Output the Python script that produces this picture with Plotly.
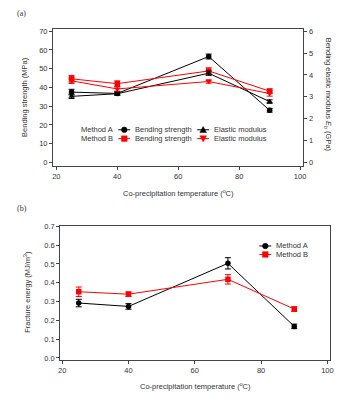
import plotly.graph_objects as go

# ---------------- data ----------------
temps = [25, 40, 70, 90]

a_strength = [37.5, 36.8, 56.5, 27.8]
a_strength_err = [1.5, 1.0, 1.3, 1.0]
a_modulus = [3.02, 3.14, 4.08, 2.78]
a_modulus_err = [0.10, 0.06, 0.10, 0.08]

b_strength = [44.6, 42.0, 48.8, 38.0]
b_strength_err = [1.8, 1.5, 1.7, 1.2]
b_modulus = [3.73, 3.36, 3.70, 3.15]
b_modulus_err = [0.12, 0.10, 0.08, 0.12]

a_energy = [0.292, 0.274, 0.503, 0.168]
a_energy_err = [0.020, 0.015, 0.030, 0.012]
b_energy = [0.352, 0.339, 0.418, 0.260]
b_energy_err = [0.025, 0.012, 0.025, 0.012]

W, H = 361, 398
BLACK = "#000000"
RED = "#ff0000"
FONT = "Liberation Sans"
FS = 7.5
TICKCOL = "#333333"


def px(x):
    return x / W


def py(y):
    return 1 - y / H


fig = go.Figure()


def add_series(x, y, err, color, symbol, xa, ya):
    fig.add_trace(go.Scatter(
        x=x, y=y, mode="lines+markers", xaxis=xa, yaxis=ya,
        line=dict(color=color, width=1),
        marker=dict(color=color, symbol=symbol, size=5.5),
        error_y=dict(type="data", array=err, color=color, thickness=1, width=3),
        showlegend=False, cliponaxis=False,
    ))


add_series(temps, a_strength, a_strength_err, BLACK, "circle", "x", "y")
add_series(temps, a_modulus, a_modulus_err, BLACK, "triangle-up", "x", "y2")
add_series(temps, b_strength, b_strength_err, RED, "square", "x", "y")
add_series(temps, b_modulus, b_modulus_err, RED, "triangle-down", "x", "y2")
add_series(temps, a_energy, a_energy_err, BLACK, "circle", "x2", "y3")
add_series(temps, b_energy, b_energy_err, RED, "square", "x2", "y3")

axis_common = dict(
    showline=True, linecolor="#444444", linewidth=1, ticks="outside",
    ticklen=3, tickcolor="#444444", showgrid=False, zeroline=False,
    tickfont=dict(family=FONT, size=FS, color=TICKCOL),
)

top_x = [px(51.7), px(305.7)]
top_y = [py(164), py(25)]
bot_x = [px(59), px(333)]
bot_y = [py(361.7), py(225)]

fig.update_layout(
    width=W, height=H, margin=dict(l=0, r=0, t=0, b=0),
    paper_bgcolor="white", plot_bgcolor="white",
    font=dict(family=FONT, size=FS, color=TICKCOL),
    xaxis=dict(domain=top_x, anchor="y", range=[18.9, 101.1], tickvals=[20, 40, 60, 80, 100],
               mirror=True, **axis_common),
    yaxis=dict(domain=top_y, anchor="x", range=[-1.7, 71.4], tickvals=list(range(0, 71, 10)),
               mirror=True, **axis_common),
    yaxis2=dict(overlaying="y", side="right", anchor="x", range=[-1.7 * 6 / 70, 71.4 * 6 / 70],
                tickvals=list(range(0, 7)), **axis_common),
    xaxis2=dict(domain=bot_x, anchor="y3", range=[19.4, 100.9], tickvals=[20, 40, 60, 80, 100],
                mirror=True, **axis_common),
    yaxis3=dict(domain=bot_y, anchor="x2", range=[-0.012, 0.7035],
                tickvals=[0, 0.1, 0.2, 0.3, 0.4, 0.5, 0.6, 0.7], tickformat=".1f",
                mirror=True, **axis_common),
)

ann = []


def text(x, y, t, angle=0, anchor="center", size=FS, family=FONT):
    ann.append(dict(x=px(x), y=py(y), xref="paper", yref="paper", text=t, showarrow=False,
                    textangle=angle, xanchor=anchor, yanchor="middle",
                    font=dict(family=family, size=size, color=TICKCOL)))


text(20, 10, "(a)", family="Liberation Serif", size=8)
text(20, 208, "(b)", family="Liberation Serif", size=8)
text(179, 191.7, "Co-precipitation temperature (<sup>o</sup>C)")
text(196, 388.3, "Co-precipitation temperature (<sup>o</sup>C)")
text(22.7, 94, "Bending strength (MPa)", angle=-90)
text(330, 92.5, "Bending elastic modulus <i>E</i><sub><i>b</i></sub> (GPa)", angle=90)
text(25, 292.5, "Fracture energy (MJ/m<sup>3</sup>)", angle=-90)

shapes = []


def legend_item(cx, cy, color, symbol, label, half=6):
    shapes.append(dict(type="line", xref="paper", yref="paper", x0=px(cx - half), x1=px(cx + half),
                       y0=py(cy), y1=py(cy), line=dict(color=color, width=1)))
    common = dict(xref="paper", yref="paper", xsizemode="pixel", ysizemode="pixel",
                  xanchor=px(cx), yanchor=py(cy), fillcolor=color, line=dict(color=color, width=0.5))
    if symbol == "circle":
        shapes.append(dict(type="circle", x0=-2.8, x1=2.8, y0=-2.8, y1=2.8, **common))
    elif symbol == "square":
        shapes.append(dict(type="rect", x0=-2.8, x1=2.8, y0=-2.8, y1=2.8, **common))
    elif symbol == "triangle-up":
        shapes.append(dict(type="path", path="M-3.3,-2.8 L3.3,-2.8 L0,3.3 Z", **common))
    elif symbol == "triangle-down":
        shapes.append(dict(type="path", path="M-3.3,2.8 L3.3,2.8 L0,-3.3 Z", **common))
    text(cx + half + 3, cy, label, anchor="left")


# top legend
text(115, 127.7, "Method A", anchor="right")
text(115, 136.7, "Method B", anchor="right")
legend_item(124, 127.7, BLACK, "circle", "Bending strength")
legend_item(204, 127.7, BLACK, "triangle-up", "Elastic modulus")
legend_item(124, 136.7, RED, "square", "Bending strength")
legend_item(204, 136.7, RED, "triangle-down", "Elastic modulus")

# bottom legend
legend_item(267, 245.7, BLACK, "circle", "Method A")
legend_item(267, 254.3, RED, "square", "Method B")

fig.update_layout(annotations=ann, shapes=shapes)

fig.write_html("out.html", config={"displayModeBar": False},
               post_script="document.body.style.margin='0px';")
